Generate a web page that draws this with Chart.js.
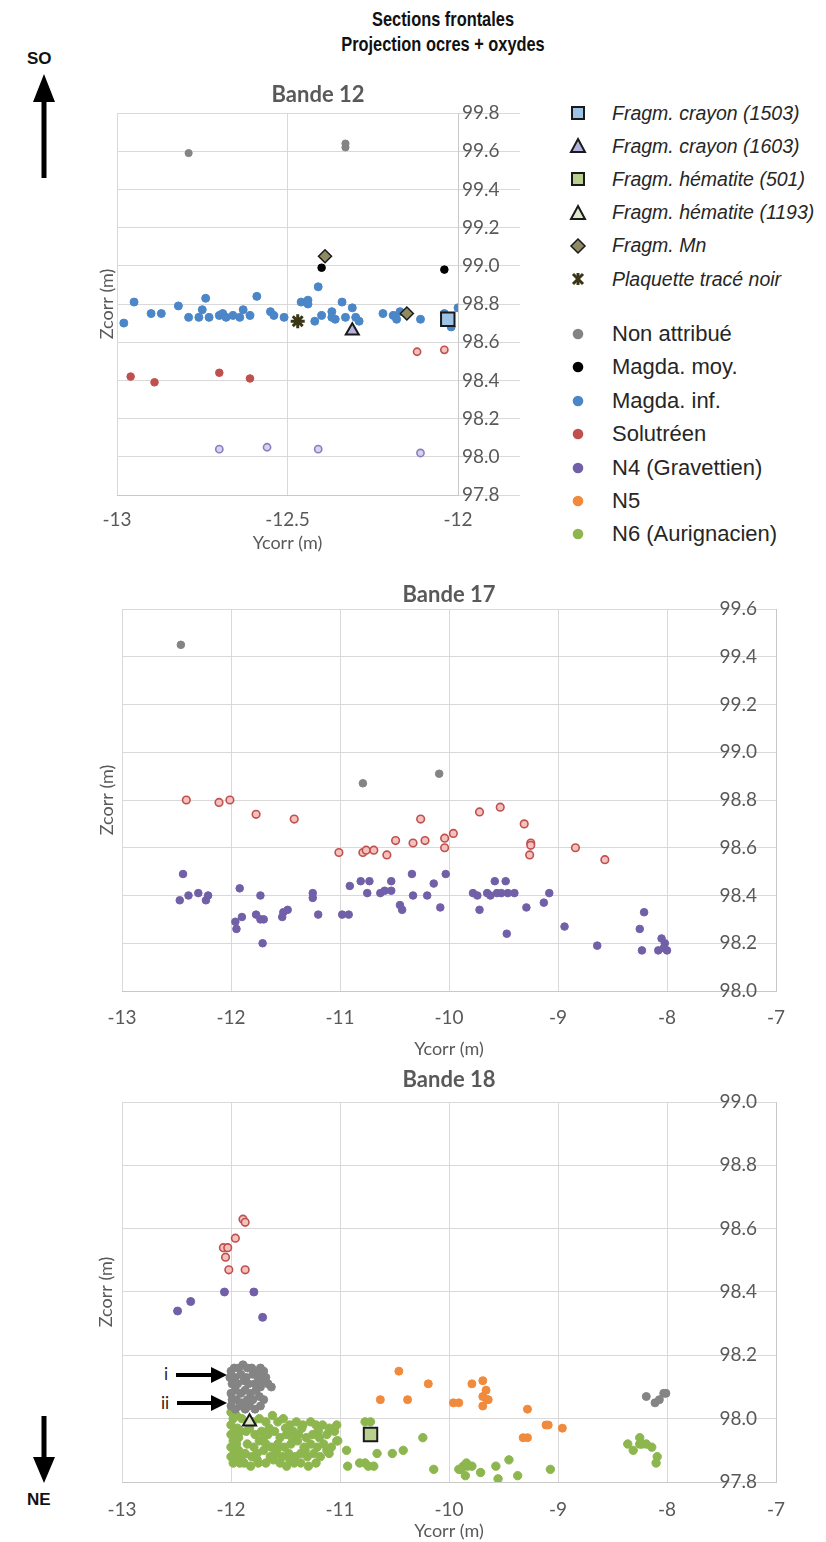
<!DOCTYPE html>
<html><head><meta charset="utf-8">
<script src="https://cdn.jsdelivr.net/npm/chart.js@4.4.0/dist/chart.umd.min.js"></script>
<style>
html,body{margin:0;padding:0;background:#fff}
body{width:826px;height:1542px;position:relative;overflow:hidden;font-family:"Liberation Sans",Arial,sans-serif}
canvas{position:absolute}
#c1{left:80px;top:60px}
#c2{left:80px;top:575px}
#c3{left:80px;top:1060px}
.ttl{position:absolute;left:0;width:886px;text-align:center;font-family:"Liberation Sans Narrow","Liberation Sans",Arial,sans-serif;font-weight:bold;font-size:21px;color:#111;transform:scaleX(0.78);transform-origin:443px 0}
.dir{position:absolute;font-family:"Liberation Sans",Arial,sans-serif;font-weight:bold;font-size:17px;color:#111}
.lg{position:absolute;left:0;top:0}
.lgrow{position:absolute;display:flex;align-items:center;height:30px}
.lgrow svg{position:absolute;left:-11px;top:4px}
.lgtxt{position:absolute;left:34px;white-space:nowrap;color:#262626}
.it{font-style:italic;font-size:19.5px}
.nm{font-size:22px}
.rom{position:absolute;font-family:Lato,"Open Sans",sans-serif;font-size:17px;color:#222}
</style>
</head><body>
<div class="ttl" style="top:7px">Sections frontales</div>
<div class="ttl" style="top:32px">Projection ocres + oxydes</div>
<div class="dir" style="left:27px;top:49px">SO</div>
<div class="dir" style="left:27px;top:1490px">NE</div>
<svg style="position:absolute;left:0;top:0" width="826" height="1542">
  <polygon points="44,74 33,102 41.5,102 41.5,178 46.5,178 46.5,102 55,102" fill="#000"/>
  <polygon points="44,1483 33,1457 41.5,1457 41.5,1416 46.5,1416 46.5,1457 55,1457" fill="#000"/>
  <polygon points="227,1375 211,1367 211,1373 176,1373 176,1377 211,1377 211,1383" fill="#000"/>
  <polygon points="227,1403 211,1395 211,1401 177,1401 177,1405 211,1405 211,1411" fill="#000"/>
</svg>
<div class="rom" style="left:164px;top:1363px">i</div>
<div class="rom" style="left:161px;top:1392px">ii</div>
<canvas id="c1" width="476" height="500"></canvas>
<canvas id="c2" width="738" height="485"></canvas>
<canvas id="c3" width="738" height="482"></canvas>
<div id="legend" class="lg"></div>
<script>
// ---------------- DATA ----------------
// Bande 12
const B12_X_TICKS = [-13, -12.5, -12];
const B12_Y_TICKS = [97.8, 98.0, 98.2, 98.4, 98.6, 98.8, 99.0, 99.2, 99.4, 99.6, 99.8];
const B12_CRAYON_1503 = [[-12.03, 98.72]];
const B12_CRAYON_1603 = [[-12.31, 98.66]];
const B12_MN = [[-12.39, 99.05], [-12.15, 98.75]];
const B12_PLAQUETTE = [[-12.47, 98.71]];
const B12_NON_ATTRIBUE = [[-12.79, 99.59], [-12.33, 99.64], [-12.33, 99.62]];
const B12_MAGDA_MOY = [[-12.40, 98.99], [-12.04, 98.98]];
const B12_MAGDA_INF = [
  [-12.98, 98.70], [-12.95, 98.81], [-12.90, 98.75], [-12.87, 98.75], [-12.82, 98.79],
  [-12.79, 98.73], [-12.76, 98.73], [-12.75, 98.77], [-12.74, 98.83], [-12.73, 98.73],
  [-12.70, 98.74], [-12.69, 98.75], [-12.68, 98.73], [-12.66, 98.74], [-12.64, 98.73],
  [-12.63, 98.77], [-12.61, 98.74], [-12.59, 98.84], [-12.55, 98.76], [-12.54, 98.74],
  [-12.51, 98.73], [-12.46, 98.81], [-12.44, 98.82], [-12.44, 98.80], [-12.42, 98.71],
  [-12.41, 98.89], [-12.40, 98.74], [-12.37, 98.76], [-12.37, 98.73], [-12.36, 98.72],
  [-12.34, 98.81], [-12.33, 98.73], [-12.31, 98.78], [-12.30, 98.73], [-12.29, 98.71],
  [-12.22, 98.75], [-12.19, 98.74], [-12.18, 98.72], [-12.17, 98.76], [-12.11, 98.72],
  [-12.04, 98.75], [-12.02, 98.68], [-12.00, 98.78]
];
const B12_SOLUTREEN = [[-12.96, 98.42], [-12.89, 98.39], [-12.70, 98.44], [-12.61, 98.41]];
const B12_SOLUTREEN_B = [[-12.12, 98.55], [-12.04, 98.56]];
const B12_N4_B = [[-12.70, 98.04], [-12.56, 98.05], [-12.41, 98.04], [-12.11, 98.02]];

// Bande 17
const B17_X_TICKS = [-13, -12, -11, -10, -9, -8, -7];
const B17_Y_TICKS = [98.0, 98.2, 98.4, 98.6, 98.8, 99.0, 99.2, 99.4, 99.6];
const B17_NON_ATTRIBUE = [[-12.46, 99.45], [-10.79, 98.87], [-10.09, 98.91]];
const B17_SOLUTREEN_B = [
  [-12.41, 98.80], [-12.11, 98.79], [-12.01, 98.80], [-11.77, 98.74], [-11.42, 98.72],
  [-11.01, 98.58], [-10.79, 98.58], [-10.76, 98.59], [-10.69, 98.59], [-10.57, 98.57],
  [-10.49, 98.63], [-10.33, 98.62], [-10.26, 98.72], [-10.22, 98.63], [-10.04, 98.64],
  [-10.04, 98.60], [-9.96, 98.66], [-9.72, 98.75], [-9.53, 98.77], [-9.31, 98.70],
  [-9.25, 98.62], [-9.25, 98.61], [-9.26, 98.57], [-8.84, 98.60], [-8.57, 98.55]
];
const B17_N4 = [
  [-12.44, 98.49], [-12.47, 98.38], [-12.39, 98.40], [-12.30, 98.41], [-12.23, 98.38],
  [-12.21, 98.40], [-11.92, 98.43], [-11.90, 98.31], [-11.96, 98.29], [-11.95, 98.26],
  [-11.73, 98.40], [-11.77, 98.32], [-11.73, 98.30], [-11.70, 98.30], [-11.71, 98.20],
  [-11.53, 98.31], [-11.52, 98.33], [-11.48, 98.34], [-11.25, 98.41], [-11.25, 98.39],
  [-11.20, 98.32], [-10.98, 98.32], [-10.92, 98.32], [-10.91, 98.44], [-10.81, 98.46],
  [-10.73, 98.46], [-10.75, 98.41], [-10.63, 98.41], [-10.59, 98.42], [-10.53, 98.46],
  [-10.53, 98.42], [-10.45, 98.36], [-10.43, 98.34], [-10.34, 98.49], [-10.33, 98.40],
  [-10.20, 98.40], [-10.14, 98.45], [-10.08, 98.35], [-10.03, 98.49], [-9.78, 98.41],
  [-9.74, 98.40], [-9.72, 98.34], [-9.65, 98.41], [-9.62, 98.40], [-9.58, 98.46],
  [-9.56, 98.41], [-9.52, 98.41], [-9.48, 98.46], [-9.46, 98.41], [-9.40, 98.41],
  [-9.47, 98.24], [-9.29, 98.35], [-9.13, 98.37], [-9.08, 98.41], [-8.94, 98.27],
  [-8.64, 98.19], [-8.25, 98.26], [-8.23, 98.17], [-8.21, 98.33], [-8.08, 98.17],
  [-8.05, 98.22], [-8.02, 98.20], [-8.00, 98.17], [-8.03, 98.18]
];

// Bande 18
const B18_X_TICKS = [-13, -12, -11, -10, -9, -8, -7];
const B18_Y_TICKS = [97.8, 98.0, 98.2, 98.4, 98.6, 98.8, 99.0];
const B18_HEMATITE_501 = [[-10.72, 97.95]];
const B18_HEMATITE_1193 = [[-11.83, 97.99]];
const B18_NON_ATTRIBUE = [
  [-12.00, 98.15], [-11.97, 98.16], [-11.93, 98.16], [-11.89, 98.17], [-11.85, 98.16],
  [-11.81, 98.16], [-11.77, 98.15], [-11.73, 98.16], [-11.70, 98.15], [-12.01, 98.13],
  [-11.96, 98.13], [-11.91, 98.14], [-11.86, 98.13], [-11.80, 98.14], [-11.75, 98.13],
  [-11.71, 98.12], [-11.68, 98.13], [-11.99, 98.11], [-11.94, 98.11], [-11.88, 98.12],
  [-11.84, 98.11], [-11.78, 98.11], [-11.73, 98.10], [-11.66, 98.11], [-11.63, 98.10],
  [-12.00, 98.08], [-11.96, 98.09], [-11.91, 98.08], [-11.87, 98.09], [-11.82, 98.08],
  [-11.77, 98.09], [-11.99, 98.06], [-11.95, 98.06], [-11.90, 98.05], [-11.85, 98.06],
  [-11.80, 98.06], [-11.74, 98.07], [-11.70, 98.06], [-12.00, 98.04], [-11.96, 98.03],
  [-11.92, 98.04], [-11.87, 98.03], [-11.83, 98.04], [-11.78, 98.03], [-11.73, 98.04],
  [-8.19, 98.07], [-8.11, 98.05], [-8.07, 98.06], [-8.03, 98.08], [-8.01, 98.08]
];
const B18_SOLUTREEN_B = [
  [-11.89, 98.63], [-11.87, 98.62], [-11.96, 98.57], [-12.07, 98.54], [-12.03, 98.54],
  [-12.05, 98.51], [-12.02, 98.47], [-11.87, 98.47]
];
const B18_N4 = [[-12.06, 98.40], [-11.79, 98.40], [-12.37, 98.37], [-12.49, 98.34], [-11.71, 98.32]];
const B18_N5 = [
  [-10.46, 98.15], [-10.19, 98.11], [-10.63, 98.06], [-10.38, 98.06], [-9.96, 98.05],
  [-9.91, 98.05], [-9.79, 98.11], [-9.69, 98.12], [-9.66, 98.09], [-9.69, 98.07],
  [-9.65, 98.06], [-9.64, 98.06], [-9.69, 98.04], [-9.28, 98.03], [-9.11, 97.98],
  [-9.09, 97.98], [-8.96, 97.97], [-9.32, 97.94], [-9.28, 97.94]
];
const B18_N6 = [
  [-12.00, 98.02], [-11.98, 98.00], [-12.00, 97.98], [-11.97, 97.96], [-12.00, 97.95],
  [-11.98, 97.93], [-12.00, 97.91], [-11.97, 97.89], [-12.00, 97.88], [-11.98, 97.86],
  [-11.95, 98.01], [-11.94, 97.97], [-11.93, 97.94], [-11.95, 97.92], [-11.93, 97.90],
  [-11.95, 97.87], [-11.92, 97.86], [-11.90, 97.88], [-11.91, 97.96], [-11.90, 98.00],
  [-11.80, 97.99], [-11.74, 98.00], [-11.68, 97.99], [-11.62, 98.01], [-11.57, 97.99],
  [-11.52, 98.00], [-11.46, 97.98], [-11.40, 97.99], [-11.34, 97.98], [-11.27, 97.99],
  [-11.22, 97.98], [-11.16, 97.98], [-11.10, 97.97],
  [-11.86, 97.96], [-11.78, 97.95], [-11.72, 97.96], [-11.66, 97.95], [-11.60, 97.96],
  [-11.55, 97.94], [-11.49, 97.95], [-11.43, 97.96], [-11.38, 97.95], [-11.31, 97.94],
  [-11.25, 97.95], [-11.19, 97.94], [-11.12, 97.95], [-11.05, 97.96],
  [-11.85, 97.92], [-11.79, 97.91], [-11.74, 97.93], [-11.68, 97.92], [-11.63, 97.91],
  [-11.57, 97.92], [-11.51, 97.91], [-11.45, 97.92], [-11.39, 97.93], [-11.33, 97.91],
  [-11.27, 97.92], [-11.21, 97.91], [-11.15, 97.92], [-11.08, 97.91], [-11.03, 97.93],
  [-11.87, 97.89], [-11.81, 97.88], [-11.76, 97.89], [-11.70, 97.90], [-11.64, 97.88],
  [-11.59, 97.89], [-11.53, 97.88], [-11.47, 97.89], [-11.41, 97.88], [-11.36, 97.89],
  [-11.30, 97.88], [-11.24, 97.89], [-11.18, 97.88], [-11.10, 97.89],
  [-11.88, 97.86], [-11.82, 97.85], [-11.75, 97.86], [-11.68, 97.86], [-11.61, 97.87],
  [-11.55, 97.86], [-11.49, 97.85], [-11.42, 97.86], [-11.36, 97.86], [-11.29, 97.85],
  [-11.22, 97.86],
  [-11.83, 97.97], [-11.65, 97.97], [-11.50, 97.97], [-11.35, 97.97], [-11.20, 97.96],
  [-11.70, 97.94], [-11.44, 97.94], [-11.58, 97.90], [-11.32, 97.90], [-11.12, 97.90],
  [-11.76, 97.87], [-11.46, 97.87],
  [-11.03, 97.98], [-11.02, 97.93], [-10.94, 97.90], [-10.93, 97.85], [-10.82, 97.86],
  [-10.77, 97.86], [-10.74, 97.85], [-10.69, 97.85], [-10.66, 97.89], [-10.52, 97.89],
  [-10.42, 97.90], [-10.24, 97.94], [-10.14, 97.84], [-10.77, 97.99], [-10.72, 97.99],
  [-9.87, 97.85], [-9.84, 97.86], [-9.89, 97.84], [-9.83, 97.85], [-9.85, 97.82],
  [-9.91, 97.84], [-9.79, 97.85], [-9.71, 97.83], [-9.57, 97.85], [-9.55, 97.81],
  [-9.45, 97.87], [-9.37, 97.82], [-9.07, 97.84],
  [-8.36, 97.92], [-8.31, 97.90], [-8.25, 97.94], [-8.25, 97.92], [-8.23, 97.92],
  [-8.19, 97.92], [-8.14, 97.91], [-8.09, 97.88], [-8.10, 97.86]
];

// Legend
const LEGEND_SPECIAL = ['Fragm. crayon (1503)', 'Fragm. crayon (1603)', 'Fragm. hématite (501)',
  'Fragm. hématite (1193)', 'Fragm. Mn', 'Plaquette tracé noir'];
const LEGEND_PERIODS = ['Non attribué', 'Magda. moy.', 'Magda. inf.', 'Solutréen',
  'N4 (Gravettien)', 'N5', 'N6 (Aurignacien)'];

// ---------------- STYLE ----------------
const C = {
  gray: '#848484', black: '#000000', blue: '#4a86c8', red: '#c0504d', redFill: '#f3c2bf',
  purple: '#7160a8', purpleFill: '#d9d2ec', purpleB: '#8b7cc2', orange: '#f08a3c', green: '#8db64e',
  crayon1503: '#9dc3e6', crayon1603: '#b3b1dd', hem501: '#b9d08c', hem1193: '#dfe9cc',
  mn: '#8e8b62', plaq: '#3a3716', edge: '#1a1a1a'
};
const FONT = 'Lato, "Open Sans", "Liberation Sans", sans-serif';
const TXT = '#595959';
const GRID = '#d9d9d9';

const xy = a => a.map(p => ({x: p[0], y: p[1]}));
function ds(data, style, fill, border, r, bw) {
  return {data: xy(data), yAxisID: 'y', xAxisID: 'x', showLine: false, pointStyle: style,
    pointRadius: r, pointHoverRadius: r, pointBackgroundColor: fill, pointBorderColor: border,
    pointBorderWidth: bw};
}
const circ = (d, col, r) => ds(d, 'circle', col, col, r || 4, 1);
const hollow = (d, fill, border, r) => ds(d, 'circle', fill, border, r || 3.6, 1.6);

function buildChart(id, o) {
  const tickFont = {family: FONT, size: 19};
  const titleFont = {family: FONT, size: 18};
  return new Chart(document.getElementById(id), {
    type: 'scatter',
    data: {datasets: o.datasets},
    options: {
      responsive: false, animation: false,
      layout: {padding: 0},
      plugins: {
        legend: {display: false}, tooltip: {enabled: false},
        title: {display: true, text: o.title, color: TXT,
          font: {family: FONT, size: 22, weight: 'bold', lineHeight: 1.2},
          padding: {top: o.titlePadTop, bottom: o.titlePadBottom}}
      },
      scales: {
        x: {type: 'linear', position: 'bottom', min: o.xTicks[0], max: o.xTicks[o.xTicks.length - 1],
          afterBuildTicks: s => { s.ticks = o.xTicks.map(v => ({value: v})); },
          ticks: {color: TXT, font: tickFont, padding: o.xTickPad, maxRotation: 0,
            callback: v => String(v)},
          grid: {color: GRID, lineWidth: 1, drawTicks: false},
          border: {color: '#c8c8c8'},
          title: {display: true, text: 'Ycorr (m)', color: TXT, font: titleFont,
            padding: {top: 0, bottom: o.xTitlePadBottom}},
          afterFit: s => { s.height = o.xHeight; }
        },
        yL: {type: 'linear', position: 'left', min: o.yTicks[0], max: o.yTicks[o.yTicks.length - 1],
          ticks: {display: false}, grid: {display: false}, border: {display: false},
          title: {display: true, text: 'Zcorr (m)', color: TXT, font: titleFont,
            padding: {top: o.yTitlePadTop, bottom: 0}},
          afterFit: s => { s.width = o.leftWidth; }
        },
        y: {type: 'linear', position: 'right', min: o.yTicks[0], max: o.yTicks[o.yTicks.length - 1],
          afterBuildTicks: s => { s.ticks = o.yTicks.map(v => ({value: v})); },
          ticks: {color: TXT, font: tickFont, padding: o.yTickPad, mirror: o.mirror,
            callback: v => Number(v).toFixed(1)},
          grid: {color: GRID, lineWidth: 1, drawTicks: o.yTickLen > 0, tickLength: o.yTickLen, tickColor: GRID},
          border: {color: '#c8c8c8'},
          afterFit: s => { s.width = o.rightWidth; }
        }
      }
    }
  });
}

// Bande 12
buildChart('c1', {
  title: 'Bande 12', titlePadTop: 21.8, titlePadBottom: 4.8,
  xTicks: B12_X_TICKS, yTicks: B12_Y_TICKS,
  xHeight: 65, xTickPad: 13, xTitlePadBottom: 6,
  leftWidth: 37, yTitlePadTop: 16,
  rightWidth: 98, yTickLen: 62, yTickPad: -58, mirror: false,
  datasets: [
    ds(B12_CRAYON_1503, 'rect', C.crayon1503, C.edge, 9.5, 2),
    ds(B12_CRAYON_1603, 'triangle', C.crayon1603, C.edge, 7.5, 2),
    ds(B12_MN, 'rectRot', C.mn, C.edge, 6.5, 1.5),
    ds(B12_PLAQUETTE, 'star', C.plaq, C.plaq, 7, 3),
    circ(B12_NON_ATTRIBUE, C.gray, 3.6),
    circ(B12_MAGDA_MOY, C.black, 3.8),
    circ(B12_MAGDA_INF, C.blue, 4),
    circ(B12_SOLUTREEN, C.red, 3.8),
    hollow(B12_SOLUTREEN_B, C.redFill, C.red),
    hollow(B12_N4_B, C.purpleFill, C.purpleB)
  ]
});

// Bande 17
buildChart('c2', {
  title: 'Bande 17', titlePadTop: 6.8, titlePadBottom: 0.8,
  xTicks: B17_X_TICKS, yTicks: B17_Y_TICKS,
  xHeight: 69, xTickPad: 15, xTitlePadBottom: 0.2,
  leftWidth: 42, yTitlePadTop: 16,
  rightWidth: 42, yTickLen: 0, yTickPad: -19, mirror: true,
  datasets: [
    circ(B17_NON_ATTRIBUE, C.gray, 3.8),
    hollow(B17_SOLUTREEN_B, C.redFill, C.red, 3.8),
    circ(B17_N4, C.purple, 3.8)
  ]
});

// Bande 18
buildChart('c3', {
  title: 'Bande 18', titlePadTop: 6.8, titlePadBottom: 8.8,
  xTicks: B18_X_TICKS, yTicks: B18_Y_TICKS,
  xHeight: 60, xTickPad: 16, xTitlePadBottom: 0.2,
  leftWidth: 42, yTitlePadTop: 15,
  rightWidth: 42, yTickLen: 0, yTickPad: -19, mirror: true,
  datasets: [
    ds(B18_HEMATITE_501, 'rect', C.hem501, C.edge, 9.5, 2),
    ds(B18_HEMATITE_1193, 'triangle', C.hem1193, C.edge, 7.5, 2),
    circ(B18_NON_ATTRIBUE, C.gray, 4),
    hollow(B18_SOLUTREEN_B, C.redFill, C.red, 3.8),
    circ(B18_N4, C.purple, 4),
    circ(B18_N5, C.orange, 4),
    circ(B18_N6, C.green, 4.2)
  ]
});

// ---------------- LEGEND (HTML) ----------------
const SPECIAL_SVG = [
  `<rect x="5" y="5" width="12" height="12" fill="${C.crayon1503}" stroke="${C.edge}" stroke-width="2"/>`,
  `<polygon points="11,4 18,17 4,17" fill="${C.crayon1603}" stroke="${C.edge}" stroke-width="2"/>`,
  `<rect x="5" y="5" width="12" height="12" fill="${C.hem501}" stroke="${C.edge}" stroke-width="2"/>`,
  `<polygon points="11,4 18,17 4,17" fill="${C.hem1193}" stroke="${C.edge}" stroke-width="2"/>`,
  `<polygon points="11,4 18,11 11,18 4,11" fill="${C.mn}" stroke="${C.edge}" stroke-width="1.5"/>`,
  `<g stroke="${C.plaq}" stroke-width="3"><line x1="6" y1="6" x2="16" y2="16"/><line x1="16" y1="6" x2="6" y2="16"/><line x1="11" y1="5" x2="11" y2="17"/></g>`
];
const PERIOD_COLORS = [C.gray, C.black, C.blue, C.red, C.purple, C.orange, C.green];
const leg = document.getElementById('legend');
let html = '';
LEGEND_SPECIAL.forEach((t, i) => {
  const yc = 113 + i * 33.2;
  html += `<div class="lgrow" style="left:578px;top:${yc - 15}px"><svg width="22" height="22">${SPECIAL_SVG[i]}</svg><span class="lgtxt it">${t}</span></div>`;
});
LEGEND_PERIODS.forEach((t, i) => {
  const yc = 334 + i * 33.4;
  html += `<div class="lgrow" style="left:578px;top:${yc - 15}px"><svg width="22" height="22"><circle cx="11" cy="11" r="5.3" fill="${PERIOD_COLORS[i]}"/></svg><span class="lgtxt nm">${t}</span></div>`;
});
leg.innerHTML = html;
</script>
</body></html>
